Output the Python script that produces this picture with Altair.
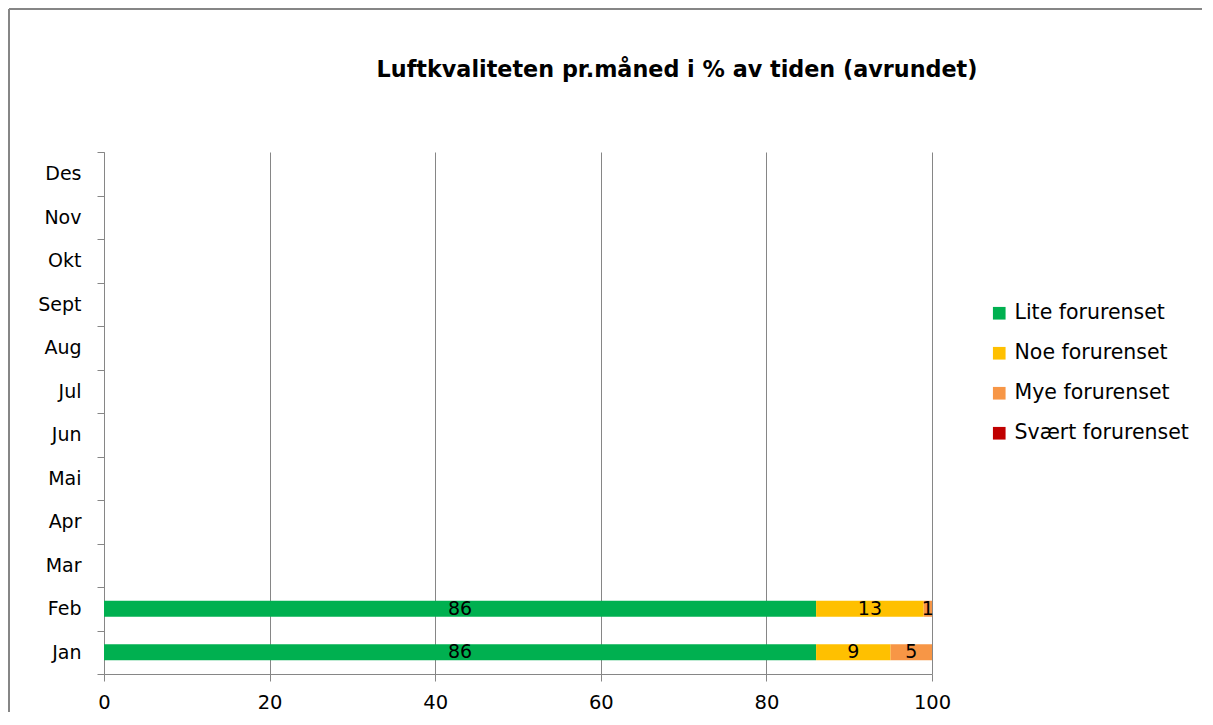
import altair as alt
import pandas as pd

months = ["Jan", "Feb", "Mar", "Apr", "Mai", "Jun", "Jul", "Aug", "Sept", "Okt", "Nov", "Des"]
categories = ["Lite forurenset", "Noe forurenset", "Mye forurenset", "Svært forurenset"]
colors = ["#00B050", "#FFC000", "#F79646", "#C00000"]

data_months = ["Jan", "Feb"]
lite = [86, 86]
noe = [9, 13]
mye = [5, 1]
svaert = [0, 0]

title_text = "Luftkvaliteten pr.måned i % av tiden (avrundet)"
x_ticks = [0, 20, 40, 60, 80, 100]

rows = []
for i, m in enumerate(data_months):
    for k, (cat, vals) in enumerate(zip(categories, [lite, noe, mye, svaert])):
        rows.append({"month": m, "cat": cat, "value": vals[i], "order": k})
df = pd.DataFrame(rows)

FONT = "DejaVu Sans"
GRAY = "#868686"
W, H = 828, 522

y_enc = alt.Y("month:N", scale=alt.Scale(domain=months[::-1], paddingInner=0, paddingOuter=0),
              axis=alt.Axis(title=None, tickBand="extent", tickSize=7, tickColor=GRAY,
                            domainColor=GRAY, labelFontSize=19, labelFont=FONT,
                            labelColor="#000000", labelPadding=16, grid=False))

base = alt.Chart(df).transform_stack(
    stack="value", as_=["x0", "x1"], groupby=["month"], sort=[alt.SortField("order")]
).transform_calculate(mid="(datum.x0 + datum.x1) / 2")

bars = base.mark_bar(size=16).encode(
    x=alt.X("x0:Q", scale=alt.Scale(domain=[0, 100], nice=False),
            axis=alt.Axis(title=None, values=x_ticks, tickSize=7, tickColor=GRAY,
                          domainColor=GRAY, gridColor=GRAY, grid=True,
                          labelFontSize=19.5, labelFont=FONT, labelColor="#000000",
                          labelPadding=12, labelFlush=False)),
    x2="x1:Q",
    y=y_enc,
    color=alt.Color("cat:N", scale=alt.Scale(domain=categories, range=colors),
                    legend=alt.Legend(title=None, orient="none", legendX=885, legendY=151,
                                      symbolType="square", symbolSize=160, symbolStrokeWidth=0,
                                      labelFontSize=20.5, labelFont=FONT, labelColor="#000000",
                                      labelOffset=5, rowPadding=19, padding=0, labelLimit=0)),
)

labels = base.transform_filter("datum.value > 0").mark_text(
    fontSize=19, font=FONT, color="#000000", baseline="middle"
).encode(x="mid:Q", y=alt.Y("month:N"), text="value:Q")

title_df = pd.DataFrame({"t": [title_text]})
title = alt.Chart(title_df).mark_text(
    fontSize=22.3, font=FONT, fontWeight="bold", color="#000000", baseline="middle"
).encode(x=alt.value(573), y=alt.value(-82), text="t:N")

frame_df = pd.DataFrame({"a": [0]})
frame_v = alt.Chart(frame_df).mark_rule(color=GRAY, strokeWidth=2).encode(
    x=alt.value(-95), y=alt.value(-143), y2=alt.value(700))
frame_h = alt.Chart(frame_df).mark_rule(color=GRAY, strokeWidth=2).encode(
    x=alt.value(-95), x2=alt.value(1300), y=alt.value(-143))

chart = alt.layer(bars, labels, title, frame_v, frame_h).properties(
    width=W, height=H,
    background="#ffffff",
    autosize=alt.AutoSizeParams(type="none"),
    padding={"left": 96, "top": 144, "right": 270, "bottom": 38},
).configure_view(stroke="transparent", strokeWidth=0)

chart.save("out.html", embed_options={"renderer": "svg", "actions": False})
